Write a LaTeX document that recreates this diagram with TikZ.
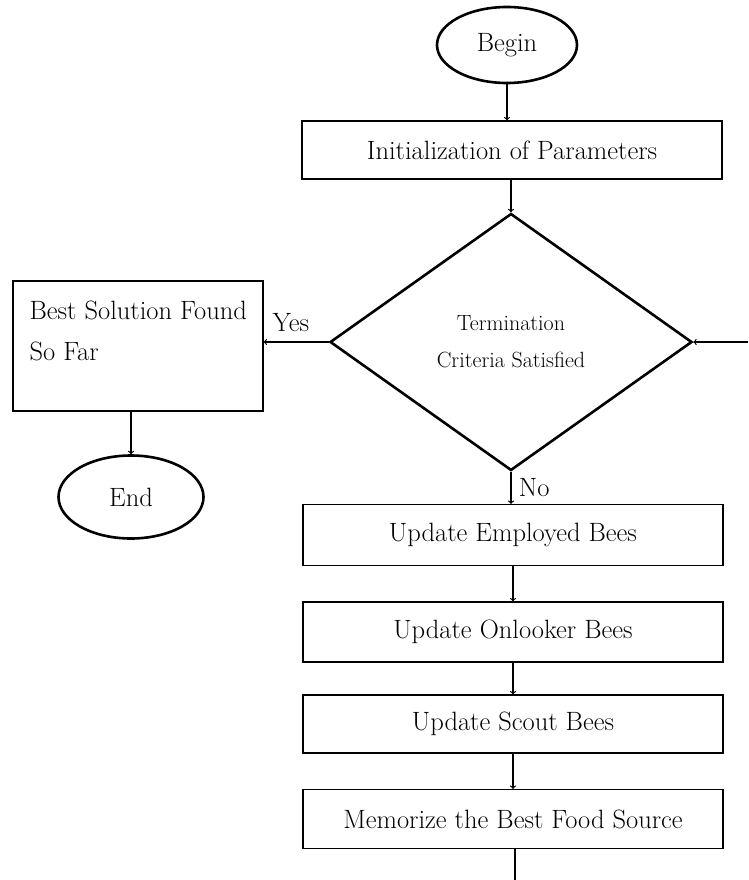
\documentclass[tikz,border=0pt]{standalone}
\usetikzlibrary{shapes.geometric}
\begin{document}
\begin{tikzpicture}[x=1pt, y=-1pt,
    every node/.style={font=\fontsize{26.5}{41}\selectfont},
    box/.style={draw, line width=1.2pt, minimum width=420pt, inner sep=0pt},
    term/.style={draw, ellipse, line width=2.6pt, inner sep=0pt},
    link/.style={line width=1.2pt, ->}]
    \useasboundingbox (0,0) rectangle (748,880);

    % Inizio e parametri
    \node[term, minimum width=140pt, minimum height=76pt] (begin) at (507,45) {Begin};
    \node[box, minimum height=58pt] (init) at (512,150) {Initialization of Parameters};

    % Condizione di arresto
    \node[draw, diamond, line width=2.6pt, inner sep=0pt, minimum width=362pt, minimum height=257pt,
          align=center, font=\fontsize{22}{37}\selectfont] (check) at (511,342) {Termination\\Criteria Satisfied};

    % Ramo Yes
    \node[box, minimum width=250pt, minimum height=130pt,
          label={[anchor=north west, align=left, inner sep=0pt, xshift=17pt, yshift=-20pt]north west:{Best Solution Found\\So Far}}]
          (best) at (138,346) {};
    \node[term, minimum width=145pt, minimum height=83pt] (end) at (131,497) {End};

    % Ramo No
    \node[box, minimum height=61pt] (employed) at (513,535) {Update Employed Bees};
    \node[box, minimum height=60pt] (onlooker) at (513,632) {Update Onlooker Bees};
    \node[box, minimum height=58pt] (scout) at (513,724) {Update Scout Bees};
    \node[box, minimum height=59pt] (memorize) at (513,819) {Memorize the Best Food Source};

    % Frecce
    \draw[link] (begin.south) -- (begin.south |- init.north);
    \draw[link] (check.north |- init.south) -- (check.north);
    \draw[link] (check.west) -- (check.west -| best.east) node[pos=0.58, above, yshift=6pt] {Yes};
    \draw[link] (best.south -| end.north) -- (end.north);
    \draw[link] (check.south) -- (check.south |- employed.north) node[midway, right, xshift=4pt] {No};
    \draw[link] (employed) -- (onlooker);
    \draw[link] (onlooker) -- (scout);
    \draw[link] (scout) -- (memorize);

    % Ciclo (tagliato al bordo)
    \coordinate (loopin) at (748,342);
    \coordinate (loopout) at (515,880);
    \draw[line width=1.2pt] (memorize.south -| loopout) -- (loopout);
    \draw[link] (loopin) -- (check.east);
\end{tikzpicture}
\end{document}
